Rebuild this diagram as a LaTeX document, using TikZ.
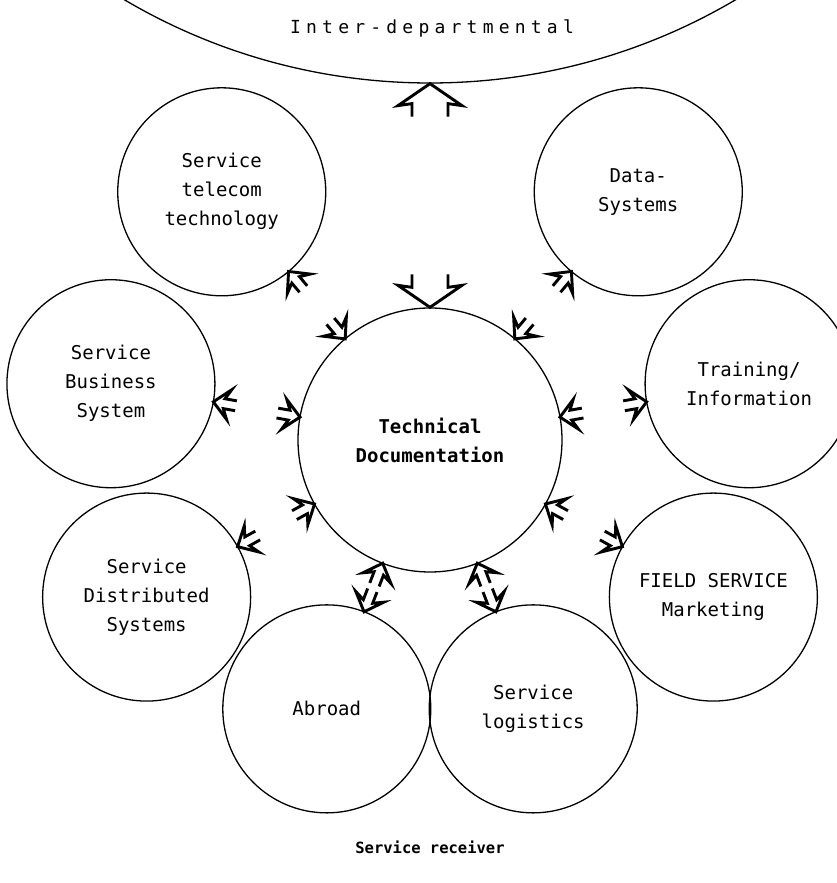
\documentclass[tikz,border=0pt]{standalone}
\usepackage{fontspec}
\setmonofont{DejaVu Sans Mono}
\usetikzlibrary{calc}

\begin{document}
\begin{tikzpicture}[x=1pt,y=1pt,
    unit/.style={circle,draw,line width=1.3pt,minimum size=208pt,inner sep=0pt,align=center,
      font=\ttfamily\fontsize{19}{29}\selectfont},
    core/.style={unit,minimum size=264pt,font=\ttfamily\bfseries\fontsize{19}{29}\selectfont},
    arr/.style={line width=2.9pt,line join=miter},
    hollow/.pic={\draw[arr] (-23,5) -- (-11,5) -- (-16,15) -- (0,0) -- (-16,-15) -- (-11,-5) -- (-23,-5);},
    bighollow/.pic={\draw[arr] (-33,18) -- (-20,18) -- (-22,32) -- (0,0) -- (-22,-32) -- (-20,-18) -- (-33,-18);}]

   \useasboundingbox (0,0) rectangle (837,883);

   \node[core] (doc) at (430,443) {Technical\\Documentation};
   \node[unit] (tel) at ($(doc)+(130:324)$) {Service\\telecom\\technology};
   \node[unit] (dat) at ($(doc)+(50:324)$)  {Data-\\Systems};
   \node[unit] (bus) at ($(doc)+(170:324)$) {Service\\Business\\System};
   \node[unit] (tra) at ($(doc)+(10:324)$)  {Training/\\Information};
   \node[unit] (dis) at ($(doc)+(209:324)$) {Service\\Distributed\\Systems};
   \node[unit] (fie) at ($(doc)+(331:324)$) {FIELD SERVICE\\Marketing};
   \node[unit] (abr) at ($(doc)+(249:288)$) {Abroad};
   \node[unit] (log) at ($(doc)+(291:288)$) {Service\\logistics};

   \node[circle,draw,line width=1.3pt,minimum size=1204pt] (inter) at (430,1402) {};
   \node[font=\ttfamily\addfontfeature{LetterSpace=29}\fontsize{18}{29}\selectfont] (intertext) at (432,855) {Inter-departmental};
   \node[font=\ttfamily\bfseries\fontsize{15.5}{20}\selectfont] (receiver) at (430,36) {Service receiver};

   % arrows between the units and the documentation
   \foreach \u in {tel,bus,dis,abr,log,fie,tra,dat}{
      \path let \p1=($(\u)-(doc)$), \n1={atan2(\y1,\x1)} in
         ($(doc)+(\n1:132)$) pic[rotate=\n1+180] {hollow}
         ($(\u)+(\n1+180:104)$) pic[rotate=\n1] {hollow};
   }
   \pic[rotate=90]  at (inter.south) {bighollow};
   \pic[rotate=270] at (doc.north)   {bighollow};
\end{tikzpicture}
\end{document}
